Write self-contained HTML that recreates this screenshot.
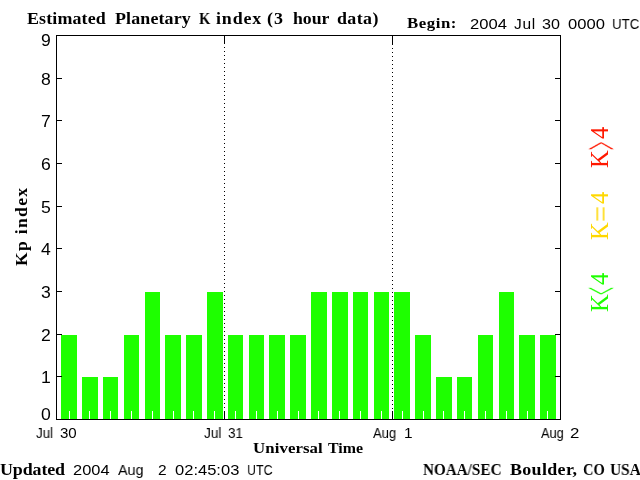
<!DOCTYPE html>
<html lang="en"><head><meta charset="utf-8"><title>Estimated Planetary K index</title>
<style>
html,body{margin:0;padding:0;background:#fff;}
html{width:640px;height:480px;overflow:hidden;}
body{width:640px;height:480px;position:relative;overflow:hidden;color:#000;}
.t{will-change:transform;position:absolute;white-space:pre;line-height:1;margin:0;padding:0;}
.sf{font-family:"Liberation Serif",serif;font-weight:bold;}
.sr{font-family:"Liberation Serif",serif;font-weight:normal;}
.ss{font-family:"Liberation Sans",sans-serif;font-weight:normal;}
.g{position:absolute;left:0;top:0;white-space:nowrap;font-size:0;line-height:0;}
.g .t{position:static;display:inline-block;vertical-align:top;width:0;height:0;}
.b{position:absolute;background:#1eff00;}
.k{position:absolute;background:#000;}
.w{position:absolute;background:#fff;width:1px;height:8px;top:411px;}
.d{position:absolute;width:1px;top:47px;height:372px;background:repeating-linear-gradient(to bottom,#000 0,#000 1px,transparent 1px,transparent 4px);}
#page{position:absolute;left:0;top:0;width:640px;height:480px;overflow:hidden;background:#fff;}
</style></head><body>
<div id="page">
<div id="plot">
<div class="b" style="left:61px;top:335px;width:16px;height:84px"></div><div class="b" style="left:82px;top:377px;width:16px;height:42px"></div><div class="b" style="left:103px;top:377px;width:15px;height:42px"></div><div class="b" style="left:124px;top:335px;width:15px;height:84px"></div><div class="b" style="left:145px;top:292px;width:15px;height:127px"></div><div class="b" style="left:165px;top:335px;width:16px;height:84px"></div><div class="b" style="left:186px;top:335px;width:16px;height:84px"></div><div class="b" style="left:207px;top:292px;width:16px;height:127px"></div><div class="b" style="left:228px;top:335px;width:15px;height:84px"></div><div class="b" style="left:249px;top:335px;width:15px;height:84px"></div><div class="b" style="left:269px;top:335px;width:16px;height:84px"></div><div class="b" style="left:290px;top:335px;width:16px;height:84px"></div><div class="b" style="left:311px;top:292px;width:16px;height:127px"></div><div class="b" style="left:332px;top:292px;width:16px;height:127px"></div><div class="b" style="left:353px;top:292px;width:15px;height:127px"></div><div class="b" style="left:374px;top:292px;width:15px;height:127px"></div><div class="b" style="left:394px;top:292px;width:16px;height:127px"></div><div class="b" style="left:415px;top:335px;width:16px;height:84px"></div><div class="b" style="left:436px;top:377px;width:16px;height:42px"></div><div class="b" style="left:457px;top:377px;width:15px;height:42px"></div><div class="b" style="left:478px;top:335px;width:15px;height:84px"></div><div class="b" style="left:499px;top:292px;width:15px;height:127px"></div><div class="b" style="left:519px;top:335px;width:16px;height:84px"></div><div class="b" style="left:540px;top:335px;width:16px;height:84px"></div>
<div class="w" style="left:69px"></div><div class="w" style="left:89px"></div><div class="w" style="left:110px"></div><div class="w" style="left:131px"></div><div class="w" style="left:152px"></div><div class="w" style="left:173px"></div><div class="w" style="left:193px"></div><div class="w" style="left:214px"></div><div class="w" style="left:235px"></div><div class="w" style="left:256px"></div><div class="w" style="left:277px"></div><div class="w" style="left:298px"></div><div class="w" style="left:318px"></div><div class="w" style="left:339px"></div><div class="w" style="left:360px"></div><div class="w" style="left:381px"></div><div class="w" style="left:402px"></div><div class="w" style="left:423px"></div><div class="w" style="left:443px"></div><div class="w" style="left:464px"></div><div class="w" style="left:485px"></div><div class="w" style="left:506px"></div><div class="w" style="left:527px"></div><div class="w" style="left:547px"></div>
<div class="d" style="left:224px;top:47px;height:372px"></div><div class="k" style="left:224px;top:36px;width:1px;height:8px"></div><div class="k" style="left:224px;top:411px;width:1px;height:8px"></div><div class="d" style="left:392px;top:48px;height:371px"></div><div class="k" style="left:392px;top:36px;width:1px;height:9px"></div><div class="k" style="left:392px;top:411px;width:1px;height:8px"></div>
<div class="k" style="left:56px;top:35px;width:505px;height:1px"></div><div class="k" style="left:56px;top:419px;width:505px;height:1px"></div><div class="k" style="left:56px;top:35px;width:1px;height:385px"></div><div class="k" style="left:560px;top:35px;width:1px;height:385px"></div>
<div class="k" style="left:57px;top:376px;width:5px;height:1px"></div><div class="k" style="left:555px;top:376px;width:5px;height:1px"></div><div class="k" style="left:57px;top:334px;width:5px;height:1px"></div><div class="k" style="left:555px;top:334px;width:5px;height:1px"></div><div class="k" style="left:57px;top:291px;width:5px;height:1px"></div><div class="k" style="left:555px;top:291px;width:5px;height:1px"></div><div class="k" style="left:57px;top:248px;width:5px;height:1px"></div><div class="k" style="left:555px;top:248px;width:5px;height:1px"></div><div class="k" style="left:57px;top:206px;width:5px;height:1px"></div><div class="k" style="left:555px;top:206px;width:5px;height:1px"></div><div class="k" style="left:57px;top:163px;width:5px;height:1px"></div><div class="k" style="left:555px;top:163px;width:5px;height:1px"></div><div class="k" style="left:57px;top:120px;width:5px;height:1px"></div><div class="k" style="left:555px;top:120px;width:5px;height:1px"></div><div class="k" style="left:57px;top:78px;width:5px;height:1px"></div><div class="k" style="left:555px;top:78px;width:5px;height:1px"></div>
</div>
<div class="g" id="title"><span class="t sf" id="t1" style="margin-left:27.00px;margin-top:11.00px;font-size:16.00px;letter-spacing:0.125px;transform-origin:0 0;transform:scaleX(1.1200);">Estimated</span> <span class="t sf" id="t2" style="margin-left:88.00px;margin-top:11.00px;font-size:16.00px;letter-spacing:0.125px;transform-origin:0 0;transform:scaleX(1.1200);">Planetary</span> <span class="t sf" id="t3" style="margin-left:84.20px;margin-top:11.00px;font-size:16.00px;transform-origin:0 0;transform:scaleX(0.9100);">K</span> <span class="t sf" id="t4" style="margin-left:16.80px;margin-top:11.00px;font-size:16.00px;letter-spacing:0.750px;transform-origin:0 0;transform:scaleX(1.1200);">index</span> <span class="t sf" id="t5" style="margin-left:51.30px;margin-top:11.00px;font-size:16.00px;letter-spacing:1.000px;transform-origin:0 0;transform:scaleX(1.1200);">(3</span> <span class="t sf" id="t6" style="margin-left:25.70px;margin-top:11.00px;font-size:16.00px;transform-origin:0 0;transform:scaleX(1.1088);">hour</span> <span class="t sf" id="t7" style="margin-left:44.00px;margin-top:11.00px;font-size:16.00px;letter-spacing:0.350px;transform-origin:0 0;transform:scaleX(1.1200);">data)</span></div>
<div class="g" id="begin"><span class="t sf" id="b1" style="margin-left:407.00px;margin-top:16.00px;font-size:15.00px;letter-spacing:0.480px;transform-origin:0 0;transform:scaleX(1.1200);">Begin:</span> <span class="t ss" id="b2" style="margin-left:63.00px;margin-top:16.00px;font-size:15.50px;transform-origin:0 0;transform:scaleX(1.0703);">2004</span> <span class="t ss" id="b3" style="margin-left:44.00px;margin-top:16.00px;font-size:15.50px;letter-spacing:0.700px;">Jul</span> <span class="t ss" id="b4" style="margin-left:28.00px;margin-top:16.00px;font-size:15.50px;transform-origin:0 0;transform:scaleX(1.0391);">30</span> <span class="t ss" id="b5" style="margin-left:26.00px;margin-top:16.00px;font-size:15.50px;transform-origin:0 0;transform:scaleX(1.0694);">0000</span> <span class="t ss" id="b6" style="margin-left:44.00px;margin-top:16.00px;font-size:15.50px;transform-origin:0 0;transform:scaleX(0.8543);">UTC</span></div>
<div class="g" id="ylabel"><span class="t sf" id="yl" style="margin-left:14.00px;margin-top:266.00px;font-size:16.00px;letter-spacing:1.193px;transform-origin:0 0;transform:rotate(-90deg) scale(1.1000,1.0000);">Kp index</span></div>
<div class="g" id="ytick9"><span class="t ss" id="y9" style="margin-left:41.40px;margin-top:33.00px;font-size:16.00px;transform-origin:0 0;transform:scaleX(1.1000);">9</span></div>
<div class="g" id="ytick8"><span class="t ss" id="y8" style="margin-left:41.40px;margin-top:72.00px;font-size:16.00px;transform-origin:0 0;transform:scaleX(1.1000);">8</span></div>
<div class="g" id="ytick7"><span class="t ss" id="y7" style="margin-left:41.40px;margin-top:114.00px;font-size:16.00px;transform-origin:0 0;transform:scaleX(1.1000);">7</span></div>
<div class="g" id="ytick6"><span class="t ss" id="y6" style="margin-left:41.40px;margin-top:157.00px;font-size:16.00px;transform-origin:0 0;transform:scaleX(1.1000);">6</span></div>
<div class="g" id="ytick5"><span class="t ss" id="y5" style="margin-left:41.40px;margin-top:200.00px;font-size:16.00px;transform-origin:0 0;transform:scaleX(1.1000);">5</span></div>
<div class="g" id="ytick4"><span class="t ss" id="y4" style="margin-left:41.40px;margin-top:242.00px;font-size:16.00px;transform-origin:0 0;transform:scaleX(1.1000);">4</span></div>
<div class="g" id="ytick3"><span class="t ss" id="y3" style="margin-left:41.40px;margin-top:285.00px;font-size:16.00px;transform-origin:0 0;transform:scaleX(1.1000);">3</span></div>
<div class="g" id="ytick2"><span class="t ss" id="y2" style="margin-left:41.40px;margin-top:328.00px;font-size:16.00px;transform-origin:0 0;transform:scaleX(1.1000);">2</span></div>
<div class="g" id="ytick1"><span class="t ss" id="y1" style="margin-left:41.40px;margin-top:370.00px;font-size:16.00px;transform-origin:0 0;transform:scaleX(1.1000);">1</span></div>
<div class="g" id="ytick0"><span class="t ss" id="y0" style="margin-left:41.40px;margin-top:407.00px;font-size:16.00px;transform-origin:0 0;transform:scaleX(1.1000);">0</span></div>
<div class="g" id="legend-high"><span class="t sr" id="k1a" style="margin-left:587.50px;margin-top:168.00px;font-size:24.50px;color:#ff1800;transform-origin:0 0;transform:rotate(-90deg);">K</span><span class="t sr" id="k1b" style="margin-left:-11.50px;margin-top:150.25px;font-size:24.50px;color:#ff1800;transform-origin:0 0;transform:rotate(-90deg) scale(0.6051,2.1236);">&gt;</span><span class="t sr" id="k1c" style="margin-left:11.50px;margin-top:139.20px;font-size:24.50px;color:#ff1800;transform-origin:0 0;transform:rotate(-90deg);">4</span></div>
<div class="g" id="legend-mid"><span class="t sr" id="k2a" style="margin-left:587.50px;margin-top:240.00px;font-size:24.50px;color:#ffd800;transform-origin:0 0;transform:rotate(-90deg);">K</span><span class="t sr" id="k2b" style="margin-left:-1.55px;margin-top:222.40px;font-size:24.50px;color:#ffd800;transform-origin:0 0;transform:rotate(-90deg) scale(1.1598,1.2659);">=</span><span class="t sr" id="k2c" style="margin-left:1.55px;margin-top:204.30px;font-size:24.50px;color:#ffd800;transform-origin:0 0;transform:rotate(-90deg);">4</span></div>
<div class="g" id="legend-low"><span class="t sr" id="k3a" style="margin-left:587.50px;margin-top:312.00px;font-size:24.50px;color:#1eff00;transform-origin:0 0;transform:rotate(-90deg);">K</span><span class="t sr" id="k3b" style="margin-left:-13.00px;margin-top:294.50px;font-size:24.50px;color:#1eff00;transform-origin:0 0;transform:rotate(-90deg) scale(0.5669,2.1693);">&lt;</span><span class="t sr" id="k3c" style="margin-left:13.00px;margin-top:284.80px;font-size:24.50px;color:#1eff00;transform-origin:0 0;transform:rotate(-90deg);">4</span></div>
<div class="g" id="xtick0"><span class="t ss" id="x1a" style="margin-left:36.00px;margin-top:426.00px;font-size:14.00px;transform-origin:0 0;transform:scaleX(0.9560);">Jul</span> <span class="t ss" id="x1b" style="margin-left:24.00px;margin-top:426.00px;font-size:14.00px;transform-origin:0 0;transform:scaleX(1.0749);">30</span></div>
<div class="g" id="xtick1"><span class="t ss" id="x2a" style="margin-left:203.75px;margin-top:426.00px;font-size:14.00px;transform-origin:0 0;transform:scaleX(0.9721);">Jul</span> <span class="t ss" id="x2b" style="margin-left:24.50px;margin-top:426.00px;font-size:14.00px;transform-origin:0 0;transform:scaleX(0.9573);">31</span></div>
<div class="g" id="xtick2"><span class="t ss" id="x3a" style="margin-left:372.90px;margin-top:426.00px;font-size:14.00px;transform-origin:0 0;transform:scaleX(0.9347);">Aug</span> <span class="t ss" id="x3b" style="margin-left:30.90px;margin-top:426.00px;font-size:14.00px;transform-origin:0 0;transform:scaleX(1.1000);">1</span></div>
<div class="g" id="xtick3"><span class="t ss" id="x4a" style="margin-left:541.00px;margin-top:426.00px;font-size:14.00px;transform-origin:0 0;transform:scaleX(0.9185);">Aug</span> <span class="t ss" id="x4b" style="margin-left:29.40px;margin-top:426.00px;font-size:14.00px;transform-origin:0 0;transform:scaleX(1.2021);">2</span></div>
<div class="g" id="xlabel"><span class="t sf" id="u1" style="margin-left:252.70px;margin-top:441.00px;font-size:15.00px;letter-spacing:0.075px;transform-origin:0 0;transform:scaleX(1.1200);">Universal</span> <span class="t sf" id="u2" style="margin-left:75.30px;margin-top:441.00px;font-size:15.00px;transform-origin:0 0;transform:scaleX(1.0595);">Time</span></div>
<div class="g" id="updated"><span class="t sf" id="f1" style="margin-left:-0.20px;margin-top:462.00px;font-size:16.00px;letter-spacing:-0.100px;transform-origin:0 0;transform:scaleX(1.1200);">Updated</span> <span class="t ss" id="f2" style="margin-left:73.40px;margin-top:462.00px;font-size:15.50px;transform-origin:0 0;transform:scaleX(1.0588);">2004</span> <span class="t ss" id="f3" style="margin-left:44.30px;margin-top:462.00px;font-size:15.50px;transform-origin:0 0;transform:scaleX(0.9259);">Aug</span> <span class="t ss" id="f4" style="margin-left:40.75px;margin-top:462.00px;font-size:15.50px;transform-origin:0 0;transform:scaleX(0.9640);">2</span> <span class="t ss" id="f5" style="margin-left:16.50px;margin-top:462.00px;font-size:15.50px;transform-origin:0 0;transform:scaleX(1.0662);">02:45:03</span> <span class="t ss" id="f6" style="margin-left:72.25px;margin-top:462.00px;font-size:15.50px;transform-origin:0 0;transform:scaleX(0.8013);">UTC</span></div>
<div class="g" id="credit"><span class="t sf" id="n1" style="margin-left:423.00px;margin-top:462.00px;font-size:16.00px;transform-origin:0 0;transform:scaleX(0.9487);">NOAA/SEC</span> <span class="t sf" id="n2" style="margin-left:86.60px;margin-top:462.00px;font-size:16.00px;letter-spacing:0.314px;transform-origin:0 0;transform:scaleX(1.1200);">Boulder,</span> <span class="t sf" id="n3" style="margin-left:73.15px;margin-top:462.00px;font-size:16.00px;transform-origin:0 0;transform:scaleX(0.9074);">CO</span> <span class="t sf" id="n4" style="margin-left:27.25px;margin-top:462.00px;font-size:16.00px;transform-origin:0 0;transform:scaleX(0.9611);">USA</span></div>
</div>
</body></html>
